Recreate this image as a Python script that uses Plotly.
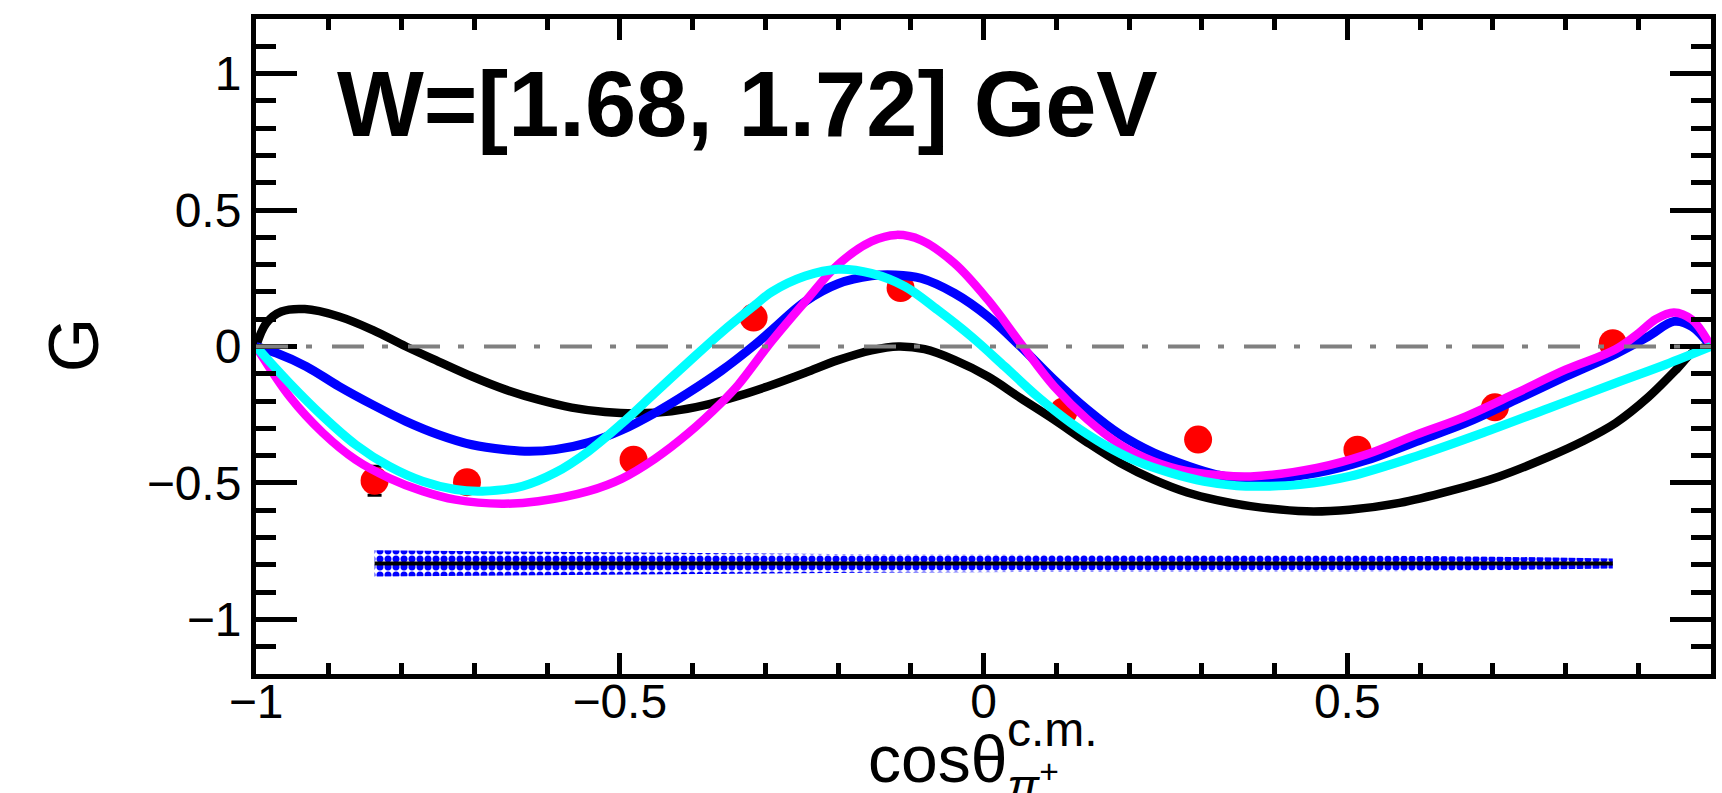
import plotly.graph_objects as go

# ---- measured beam-target asymmetry G (red points) ----
cos_pts = [-0.837, -0.710, -0.481, -0.316, -0.114, 0.110, 0.295, 0.514, 0.703, 0.865]
g_pts = [-0.492, -0.497, -0.415, 0.106, 0.214, -0.238, -0.341, -0.378, -0.223, 0.012]
g_err = [0.053, 0.035, 0.035, 0.035, 0.035, 0.030, 0.030, 0.030, 0.030, 0.030]

# ---- systematic uncertainty band, drawn around a fixed offset ----
sys_offset = -0.795
sys_err = [0.048, 0.045, 0.040, 0.036, 0.033, 0.031, 0.031, 0.030, 0.025, 0.018]

# ---- model predictions ----
black_x = [-1.0, -0.986, -0.965, -0.933, -0.886, -0.840, -0.794, -0.749, -0.703, -0.657,
           -0.612, -0.566, -0.520, -0.475, -0.429, -0.383, -0.338, -0.291, -0.245, -0.200,
           -0.154, -0.117, -0.081, -0.040, 0.006, 0.051, 0.097, 0.143, 0.188, 0.234,
           0.280, 0.321, 0.367, 0.444, 0.503, 0.572, 0.640, 0.709, 0.777, 0.823,
           0.869, 0.914, 0.951, 0.978, 1.0]
black_y = [0.0, 0.085, 0.128, 0.137, 0.110, 0.061, 0.0, -0.055, -0.110, -0.158,
           -0.195, -0.224, -0.240, -0.245, -0.237, -0.215, -0.182, -0.141, -0.096, -0.050,
           -0.014, 0.0, -0.010, -0.049, -0.110, -0.189, -0.268, -0.352, -0.427, -0.488,
           -0.535, -0.563, -0.585, -0.604, -0.598, -0.573, -0.530, -0.476, -0.404, -0.348,
           -0.280, -0.185, -0.088, -0.015, 0.0]

blue_x = [-1.0, -0.972, -0.931, -0.886, -0.840, -0.794, -0.749, -0.703, -0.657, -0.625,
          -0.589, -0.543, -0.497, -0.452, -0.406, -0.360, -0.315, -0.291, -0.245, -0.200,
          -0.154, -0.122, -0.086, -0.040, 0.006, 0.051, 0.097, 0.143, 0.188, 0.234,
          0.280, 0.321, 0.367, 0.458, 0.526, 0.595, 0.663, 0.732, 0.800, 0.869,
          0.914, 0.949, 0.974, 1.0]
blue_y = [0.0, -0.024, -0.073, -0.146, -0.213, -0.274, -0.323, -0.360, -0.378, -0.384,
          -0.378, -0.352, -0.306, -0.244, -0.170, -0.088, 0.005, 0.060, 0.165, 0.230,
          0.259, 0.262, 0.250, 0.195, 0.110, 0.0, -0.122, -0.232, -0.323, -0.390,
          -0.437, -0.470, -0.488, -0.463, -0.417, -0.348, -0.280, -0.195, -0.110, -0.027,
          0.037, 0.092, 0.073, 0.0]

magenta_x = [-1.0, -0.954, -0.908, -0.863, -0.817, -0.771, -0.726, -0.662, -0.612, -0.543,
             -0.497, -0.452, -0.406, -0.360, -0.337, -0.291, -0.245, -0.200, -0.154, -0.120,
             -0.086, -0.040, 0.006, 0.051, 0.097, 0.143, 0.188, 0.234, 0.280, 0.321,
             0.367, 0.458, 0.526, 0.595, 0.663, 0.732, 0.800, 0.869, 0.901, 0.924,
             0.949, 0.974, 1.0]
magenta_y = [0.0, -0.183, -0.317, -0.415, -0.482, -0.530, -0.561, -0.576, -0.567, -0.530,
             -0.484, -0.412, -0.318, -0.205, -0.140, 0.020, 0.165, 0.300, 0.385, 0.409,
             0.390, 0.305, 0.171, 0.012, -0.146, -0.268, -0.360, -0.421, -0.457, -0.471,
             -0.476, -0.445, -0.396, -0.323, -0.256, -0.171, -0.085, -0.010, 0.050, 0.100,
             0.125, 0.098, 0.0]

cyan_x = [-1.0, -0.954, -0.908, -0.863, -0.817, -0.771, -0.726, -0.689, -0.634, -0.589,
          -0.543, -0.497, -0.452, -0.406, -0.360, -0.315, -0.291, -0.245, -0.200, -0.154,
          -0.108, -0.063, -0.017, 0.029, 0.074, 0.120, 0.166, 0.211, 0.257, 0.303,
          0.348, 0.390, 0.435, 0.503, 0.595, 0.686, 0.777, 0.869, 0.937, 1.0]
cyan_y = [0.0, -0.134, -0.256, -0.360, -0.439, -0.494, -0.524, -0.530, -0.512, -0.463,
          -0.384, -0.282, -0.171, -0.058, 0.052, 0.150, 0.200, 0.258, 0.283, 0.268,
          0.220, 0.134, 0.037, -0.073, -0.183, -0.280, -0.360, -0.421, -0.463, -0.494,
          -0.510, -0.512, -0.506, -0.476, -0.402, -0.317, -0.226, -0.134, -0.067, 0.0]

x_ticks = [-1, -0.5, 0, 0.5]
x_tick_text = ["\u22121", "\u22120.5", "0", "0.5"]
y_ticks = [-1, -0.5, 0, 0.5, 1]
y_tick_text = ["\u22121", "\u22120.5", "0", "0.5", "1"]

FONT = "Liberation Sans, Arial, Helvetica, sans-serif"

fig = go.Figure()

# systematic band: lower edge, then upper edge filled with a dotted pattern
band_lo = [sys_offset - e for e in sys_err]
band_hi = [sys_offset + e for e in sys_err]
fig.add_trace(go.Scatter(x=cos_pts, y=band_lo, mode="lines",
                         line=dict(width=0, color="blue"), hoverinfo="skip",
                         showlegend=False))
fig.add_trace(go.Scatter(x=cos_pts, y=band_hi, mode="lines", fill="tonexty",
                         fillcolor="rgba(0,0,0,0)",
                         fillpattern=dict(shape=".", fgcolor="blue", bgcolor="white",
                                          size=8, solidity=0.6, fillmode="replace"),
                         line=dict(width=0, color="blue"), hoverinfo="skip",
                         showlegend=False))
fig.add_trace(go.Scatter(x=cos_pts, y=[sys_offset] * len(cos_pts), mode="lines",
                         line=dict(width=4, color="black"), showlegend=False))

# data points
fig.add_trace(go.Scatter(x=cos_pts, y=g_pts, mode="markers",
                         marker=dict(size=28, color="red", line=dict(width=0)),
                         error_y=dict(type="data", array=g_err, color="black",
                                      thickness=3, width=7),
                         showlegend=False))

# model curves
for xs, ys, col, w in [(black_x, black_y, "black", 8.5),
                       (blue_x, blue_y, "#0000ff", 9),
                       (magenta_x, magenta_y, "#ff00ff", 8.5),
                       (cyan_x, cyan_y, "#00ffff", 9)]:
    fig.add_trace(go.Scatter(x=xs, y=ys, mode="lines",
                             line=dict(color=col, width=w, shape="spline", smoothing=1.0),
                             showlegend=False))

# dash-dot zero line on top
fig.add_shape(type="line", xref="x", yref="y", x0=-1, x1=1, y0=0, y1=0,
              line=dict(color="#808080", width=4, dash="32px,18px,6px,20px"),
              layer="above")

axis_common = dict(showline=True, linewidth=5, linecolor="black", mirror="allticks",
                   ticks="inside", tickwidth=5, tickcolor="black", showgrid=False,
                   zeroline=False, tickfont=dict(family=FONT, size=48, color="black"))

fig.update_xaxes(range=[-1, 1], tickmode="array", tickvals=x_ticks, ticktext=x_tick_text,
                 ticklen=21, ticklabelstandoff=-19,
                 minor=dict(tickmode="linear", tick0=0, dtick=0.1, ticklen=11,
                            tickwidth=5, tickcolor="black", ticks="inside"),
                 **axis_common)
fig.update_yaxes(range=[-1.2, 1.2], tickmode="array", tickvals=y_ticks, ticktext=y_tick_text,
                 ticklen=41,
                 minor=dict(tickmode="linear", tick0=0, dtick=0.1, ticklen=20,
                            tickwidth=5, tickcolor="black", ticks="inside"),
                 **axis_common)

annotations = [
    dict(text="<b>W=[1.68, 1.72] GeV</b>", xref="x", yref="y", x=-0.892, y=0.887,
         xanchor="left", yanchor="middle", showarrow=False,
         font=dict(family=FONT, size=92, color="black")),
    dict(text="G", xref="paper", yref="paper", x=-0.125, y=0.502, textangle=-90,
         xanchor="center", yanchor="middle", showarrow=False,
         font=dict(family=FONT, size=70, color="black")),
    dict(text="cos\u03b8", xref="paper", yref="paper", x=0.419, y=-0.130,
         xanchor="left", yanchor="middle", showarrow=False,
         font=dict(family=FONT, size=66, color="black")),
    dict(text="c.m.", xref="paper", yref="paper", x=0.515, y=-0.085,
         xanchor="left", yanchor="middle", showarrow=False,
         font=dict(family=FONT, size=48, color="black")),
    dict(text="<i>\u03c0</i><sup>+</sup>", xref="paper", yref="paper", x=0.515, y=-0.167,
         xanchor="left", yanchor="middle", showarrow=False,
         font=dict(family=FONT, size=48, color="black")),
]

fig.update_layout(width=1722, height=793, margin=dict(l=256, r=6, t=19, b=119),
                  paper_bgcolor="white", plot_bgcolor="white",
                  annotations=annotations, showlegend=False)

fig.write_html("out.html")
